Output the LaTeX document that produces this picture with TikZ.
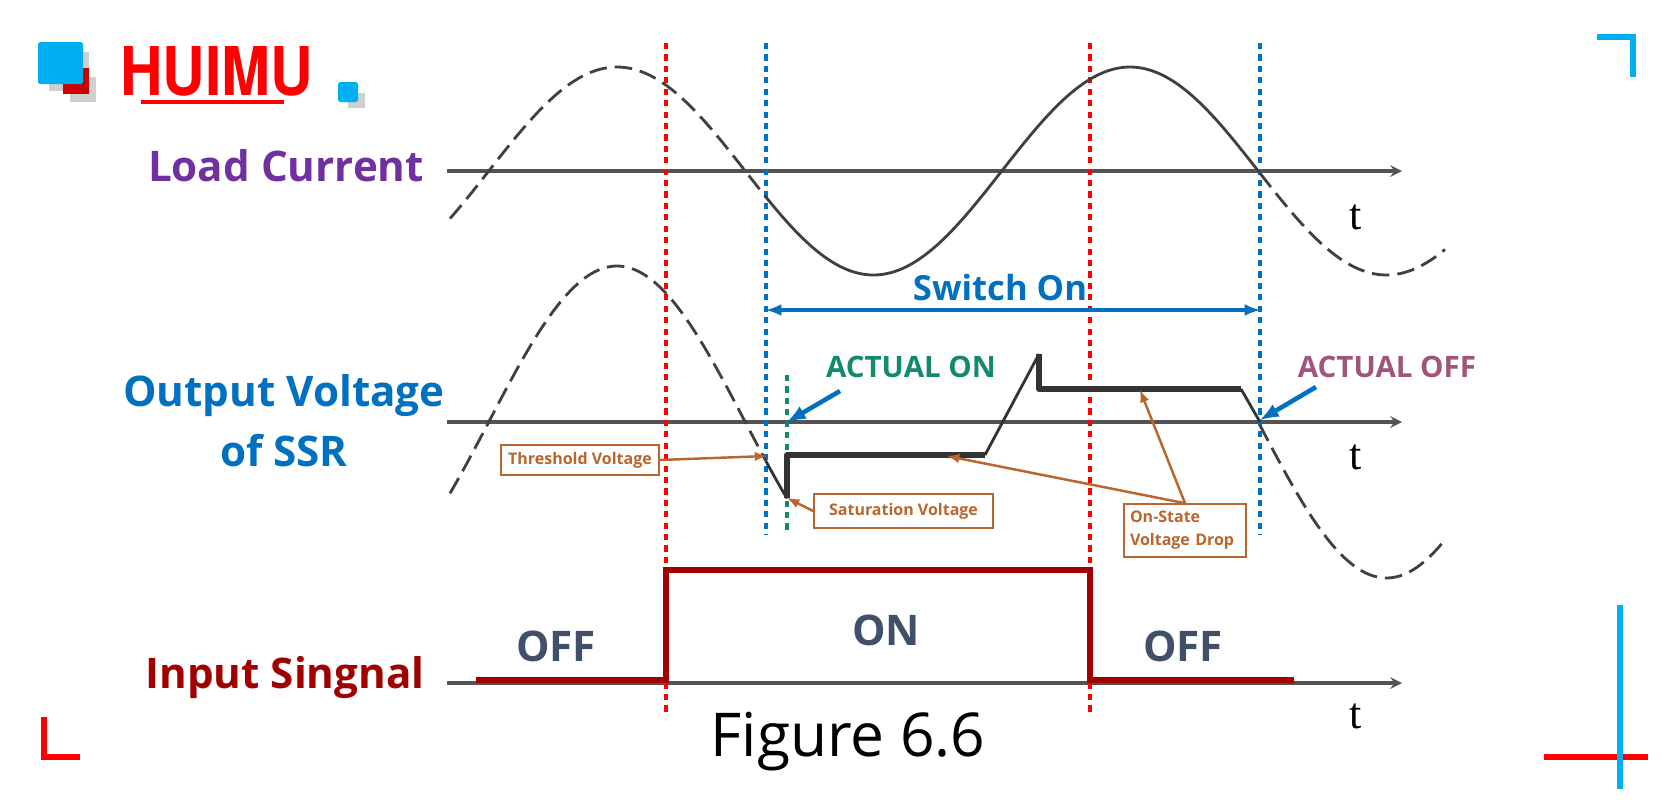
\documentclass[tikz,border=0pt]{standalone}
\usepackage{fontspec}
\setmainfont{Open Sans}
\newfontfamily\timesfont{Liberation Serif}
\newfontfamily\logofont{TeX Gyre Heros}
\usetikzlibrary{arrows}
\definecolor{hmblue}{HTML}{0070C0}
\definecolor{hmsky}{HTML}{00B0F0}
\definecolor{hmred}{HTML}{FF0000}
\definecolor{hmdark}{HTML}{A00000}
\definecolor{hmgrey}{HTML}{404040}
\definecolor{hmpurple}{HTML}{7030A0}
\definecolor{hmgreen}{HTML}{138A6E}
\definecolor{hmmauve}{HTML}{A0557A}
\definecolor{hmslate}{HTML}{3F5068}
\definecolor{hmbrown}{HTML}{B9652B}
\definecolor{hmshadow}{HTML}{CFCFCF}
\tikzset{
  axisline/.style={draw=hmgrey!90!white, line width=1.9pt, -stealth},
  wave/.style={draw=hmgrey, line width=1.6pt},
  wavedash/.style={wave, dash pattern=on 10pt off 4.5pt},
  marker/.style={line width=1.9pt, dash pattern=on 3.5pt off 3pt},
  trace/.style={draw=hmgrey!80!black, line width=3.2pt, line join=round},
  tracethin/.style={draw=hmgrey!80!black, line width=1.6pt},
  title/.style={font=\fontsize{24}{34}\selectfont\bfseries, align=center},
  state/.style={font=\fontsize{24}{28}\selectfont\bfseries, text=hmslate},
  actual/.style={font=\fontsize{16.8}{20}\selectfont\bfseries},
  tlabel/.style={font=\timesfont\fontsize{25}{28}\selectfont},
  callout/.style={draw=hmbrown, line width=.9pt, text=hmbrown, font=\fontsize{9.1}{13}\selectfont\bfseries, inner sep=0pt},
  calloutarrow/.style={draw=hmbrown, line width=1.4pt, -latex},
  pointer/.style={draw=hmblue, line width=2.6pt, -latex},
  corner/.style={line width=3pt}
}
\begin{document}
\begin{tikzpicture}[x=.02cm,y=-.02cm]
  \useasboundingbox (0,0) rectangle (1678,799);
  % logo
  \fill[hmshadow] (49,52) rectangle (89,91);
  \fill[hmshadow] (70,77) rectangle (96,102);
  \fill[red!80!black] (63,68) rectangle (89,94);
  \fill[hmsky, rounded corners=1pt] (38,42) rectangle (83,84);
  \fill[hmshadow] (348,93) rectangle (365,108);
  \fill[hmsky, rounded corners=1pt] (338,82) rectangle (358,102);
  \node[text=hmred, inner sep=0pt] (logo) at (216.5,71) {\resizebox{3.86cm}{.98cm}{\logofont\bfseries HUIMU}};
  \fill[hmred] (141,99.5) rectangle (284,103.5);
  % frame marks
  \draw[corner, hmsky] (1597,37) -- (1633,37) -- (1633,77);
  \draw[corner, hmred] (44,717) -- (44,757) -- (80,757);
  \draw[corner, hmred] (1544,757) -- (1648,757);
  \draw[corner, hmsky] (1620,605) -- (1620,789);
  % time axes
  \foreach \lab/\y in {
    load/171,
    output/422,
    input/683%
  } {
    \coordinate (\lab start) at (447,\y);
    \coordinate (\lab end) at (1402,\y);
    \draw[axisline] (\lab start) -- (\lab end);
  }
  % markers
  \foreach \lab/\x/\a/\b/\c in {
    redon/666/43/715/hmred,
    redoff/1090/43/715/hmred,
    blueon/766/43/535/hmblue,
    blueoff/1260/43/535/hmblue,
    greenon/787/375/532/hmgreen%
  } {
    \coordinate (\lab top) at (\x,\a);
    \coordinate (\lab bot) at (\x,\b);
    \draw[marker, draw=\c] (\lab top) -- (\lab bot);
  }
  % load current
  \draw[wavedash] plot[domain=450:766, samples=80] (\x, {171-104*cos((\x-617)/513*360)});
  \draw[wave] plot[domain=766:1260, samples=120] (\x, {171-104*cos((\x-617)/513*360)});
  \draw[wavedash] plot[domain=1260:1445, samples=50] (\x, {171-104*cos((\x-617)/513*360)});
  % output voltage
  \draw[wavedash] plot[domain=450:766, samples=80] (\x, {422-156*cos((\x-617)/513*360)});
  \draw[tracethin] plot[domain=766:787, samples=8] (\x, {422-156*cos((\x-617)/513*360)});
  \draw[wavedash] plot[domain=1260:1445, samples=50] (\x, {422-156*cos((\x-617)/513*360)});
  \coordinate (sat) at (787,498);
  \coordinate (onflat) at (787,455);
  \coordinate (riseflat) at (985,455);
  \coordinate (peak) at (1039,354);
  \coordinate (dropflat) at (1039,389);
  \coordinate (falloff) at (1241,389);
  \coordinate (zerooff) at (1260,422);
  \draw[trace] (sat) -- (onflat) -- (riseflat);
  \draw[tracethin] (riseflat) -- (peak);
  \draw[trace] (peak) -- (dropflat) -- (falloff);
  \draw[tracethin] (falloff) -- (zerooff);
  % input signal
  \coordinate (in0) at (476,680);
  \coordinate (in1) at (666,680);
  \coordinate (in2) at (666,570);
  \coordinate (in3) at (1090,570);
  \coordinate (in4) at (1090,680);
  \coordinate (in5) at (1294,680);
  \draw[draw=hmdark, line width=3.1pt] (in0) -- (in1) -- (in2) -- (in3) -- (in4) -- (in5);
  % left titles
  \node[title, text=hmpurple] (loadlab) at (286,166) {Load Current};
  \node[title, text=hmblue] (outlab) at (284,421) {Output Voltage\\of SSR};
  \node[title, text=hmdark] (inlab) at (285,678) {Input Singnal};
  \foreach \lab/\x/\y/\txt in {
    offa/556/646/OFF,
    on/886/630/ON,
    offb/1183/646/OFF%
  } {
    \node[state] (\lab) at (\x,\y) {\txt};
  }
  \foreach \lab/\y in {
    ta/217,
    tb/457,
    tc/716%
  } {
    \node[tlabel] (\lab) at (1356,\y) {t};
  }
  % switch on span
  \node[font=\fontsize{19.7}{24}\selectfont\bfseries, text=hmblue] (switch) at (1000,288) {Switch On};
  \coordinate (spanl) at (766,310);
  \coordinate (spanr) at (1260,310);
  \draw[draw=hmblue, line width=2pt, latex-latex] (spanl) -- (spanr);
  % actual on, off
  \node[actual, text=hmgreen] (acton) at (911,367) {ACTUAL ON};
  \node[actual, text=hmmauve] (actoff) at (1387,367) {ACTUAL OFF};
  \coordinate (actonfrom) at (840,391);
  \coordinate (actonto) at (787,422);
  \coordinate (actofffrom) at (1316,387);
  \coordinate (actoffto) at (1260,420);
  \draw[pointer] (actonfrom) -- (actonto);
  \draw[pointer] (actofffrom) -- (actoffto);
  % callouts
  \node[callout, fill=white, minimum width=3.16cm, minimum height=.6cm] (thresh) at (580,460) {Threshold Voltage};
  \node[callout, minimum width=3.58cm, minimum height=.68cm] (satbox) at (903.5,511) {Saturation Voltage};
  \node[callout, minimum width=2.44cm, minimum height=1.06cm, align=left, text width=2.2cm] (drop) at (1185,530.5) {On-State\\Voltage Drop};
  \coordinate (threshto) at (767,456);
  \coordinate (lowflat) at (947,456);
  \coordinate (highflat) at (1140,390);
  \draw[calloutarrow] (thresh.east) -- (threshto);
  \draw[calloutarrow] (satbox.west) -- (sat);
  \draw[calloutarrow] (drop.north) -- (lowflat);
  \draw[calloutarrow] (drop.north) -- (highflat);
  % caption
  \node[font=\fontsize{34.4}{40}\selectfont] (caption) at (848,742) {Figure 6.6};
\end{tikzpicture}
\end{document}
